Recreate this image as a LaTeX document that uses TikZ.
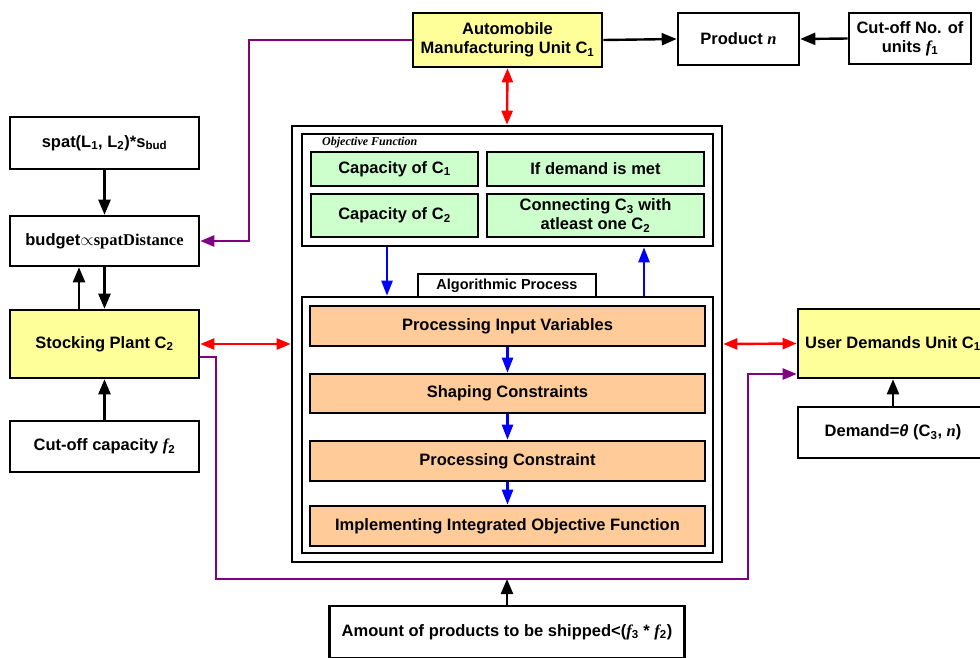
\documentclass[tikz,border=0pt]{standalone}
\usepackage{fontspec}
\setmainfont{Liberation Sans}
\newfontfamily\timesfont{Liberation Serif}
\usepackage{xcolor}
\usepackage{tikz}
\usetikzlibrary{calc, arrows.meta}

\definecolor{unityellow}{HTML}{FFFF99}
\definecolor{objgreen}{HTML}{CCFFCC}
\definecolor{procorange}{HTML}{FFCC99}
\definecolor{linkpurple}{HTML}{800080}

\newcommand{\ivar}[1]{{\timesfont\bfseries\itshape #1}}

\begin{document}
\begin{tikzpicture}[x=1pt, y=-1pt,
    box/.style={draw, line width=2.6pt, inner sep=0pt, align=center,
        font=\bfseries\fontsize{16.5}{19}\selectfont},
    unitbox/.style={box, fill=unityellow},
    objitem/.style={box, fill=objgreen},
    procitem/.style={box, fill=procorange},
    frame/.style={draw, line width=2.6pt, inner sep=0pt},
    blk/.style={line width=2.4pt, -{Triangle[length=15pt,width=12pt]}},
    redlink/.style={red, line width=2.4pt, {Triangle[length=14pt,width=11pt]}-{Triangle[length=14pt,width=11pt]}},
    bluelink/.style={blue, line width=2.4pt, -{Triangle[length=15pt,width=11pt]}},
    purplink/.style={linkpurple, line width=2.4pt}]

    \useasboundingbox (0,0) rectangle (980,657);

    % Khung chinh ben giua
    \node[frame, minimum width=430pt, minimum height=436pt] (outer) at (507,344) {};
    \node[frame, minimum width=411pt, minimum height=112pt] (objbox) at (507.5,190) {};
    \node[frame, minimum width=411pt, minimum height=256pt] (algbox) at (507.5,425) {};
    \node[box, fill=white, minimum width=178pt, minimum height=23pt,
        font=\bfseries\fontsize{14.5}{17}\selectfont] (algtitle) at (507,285.5) {Algorithmic Process};
    \node[anchor=west, inner sep=0pt, font=\fontsize{12}{14}\selectfont] (objlabel) at (322,143)
        {\timesfont\bfseries\itshape Objective Function};

    % Cac o cua ham muc tieu
    \node[objitem, minimum width=167pt, minimum height=34pt] (cap1) at (394.5,169) {Capacity of C\textsubscript{1}};
    \node[objitem, minimum width=217pt, minimum height=34pt] (demmet) at (595.5,169) {If demand is met};
    \node[objitem, minimum width=167pt, minimum height=43pt] (cap2) at (394.5,215.5) {Capacity of C\textsubscript{2}};
    \node[objitem, minimum width=217pt, minimum height=43pt] (connect) at (595.5,215.5)
        {Connecting C\textsubscript{3} with\\atleast one C\textsubscript{2}};

    % Cac buoc xu ly
    \node[procitem, minimum width=395pt, minimum height=40pt] (proc1) at (507.5,326) {Processing Input Variables};
    \node[procitem, minimum width=395pt, minimum height=39pt] (proc2) at (507.5,393.5) {Shaping Constraints};
    \node[procitem, minimum width=395pt, minimum height=40pt] (proc3) at (507.5,461) {Processing Constraint};
    \node[procitem, minimum width=395pt, minimum height=40pt] (proc4) at (507.5,526) {Implementing Integrated Objective Function};

    % Cac khoi ben ngoai
    \node[unitbox, minimum width=189pt, minimum height=54pt] (auto) at (507.5,40)
        {Automobile\\Manufacturing Unit C\textsubscript{1}};
    \node[box, minimum width=121pt, minimum height=52pt] (product) at (738.5,39) {Product \ivar{n}};
    \node[box, minimum width=122pt, minimum height=51pt] (cutunits) at (910,38.5)
        {Cut-off No. of\\units \ivar{f}\textsubscript{1}};
    \node[box, minimum width=189pt, minimum height=52pt] (spat) at (104.5,143)
        {spat(L\textsubscript{1}, L\textsubscript{2})*s\textsubscript{bud}};
    \node[box, minimum width=189pt, minimum height=50pt] (budget) at (104.5,241)
        {budget{\timesfont$\propto$spatDistance}};
    \node[unitbox, minimum width=189pt, minimum height=68pt] (stock) at (104.5,344) {Stocking Plant C\textsubscript{2}};
    \node[box, minimum width=189pt, minimum height=51pt] (capf2) at (104.5,446.5)
        {Cut-off capacity \ivar{f}\textsubscript{2}};
    \node[unitbox, minimum width=190pt, minimum height=69pt] (user) at (893,343.5) {User Demands Unit C\textsubscript{1}};
    \node[box, minimum width=190pt, minimum height=51pt] (demand) at (893,432.5)
        {Demand=\textit{θ} (C\textsubscript{3}, \ivar{n})};
    \node[box, minimum width=355pt, minimum height=52pt] (amount) at (507,632)
        {Amount of products to be shipped<(\ivar{f}\textsubscript{3} * \ivar{f}\textsubscript{2})};

    % Mui ten den
    \draw[blk] (auto.east) -- (product.west);
    \draw[blk] (cutunits.west) -- (product.east);
    \draw[blk] (spat.south) -- (budget.north);
    \draw[blk] (budget.south) -- (stock.north);
    \draw[blk] ($(stock.north)+(-25.5,0)$) -- ($(budget.south)+(-25.5,0)$);
    \draw[blk] (capf2.north) -- (stock.south);
    \draw[blk] (demand.north) -- (user.south);
    \coordinate (shipjoin) at (507,579);
    \draw[blk] (amount.north) -- (shipjoin);

    % Mui ten do hai chieu
    \draw[redlink] (auto.south) -- (outer.north);
    \draw[redlink] (stock.east) -- (outer.west);
    \draw[redlink] (outer.east) -- (user.west);

    % Duong tim
    \draw[purplink, -{Triangle[length=14pt,width=11pt]}] (auto.west) -- ++(-163,0) |- (budget.east);
    \coordinate (stockout) at ($(stock.east)+(0,13)$);
    \coordinate (userin) at ($(user.west)+(0,30.5)$);
    \draw[purplink, -{Triangle[length=14pt,width=11pt]}] (stockout) -- (216,357) -- (216,579)
        -- (748,579) -- (748,374) -- (userin);

    % Mui ten xanh
    \draw[bluelink] ($(objbox.south)+(-120.5,0)$) -- ($(algbox.north)+(-120.5,0)$);
    \draw[bluelink] ($(algbox.north)+(136.5,0)$) -- ($(objbox.south)+(136.5,0)$);
    \draw[bluelink] (proc1.south) -- (proc2.north);
    \draw[bluelink] (proc2.south) -- (proc3.north);
    \draw[bluelink] (proc3.south) -- (proc4.north);

\end{tikzpicture}
\end{document}
